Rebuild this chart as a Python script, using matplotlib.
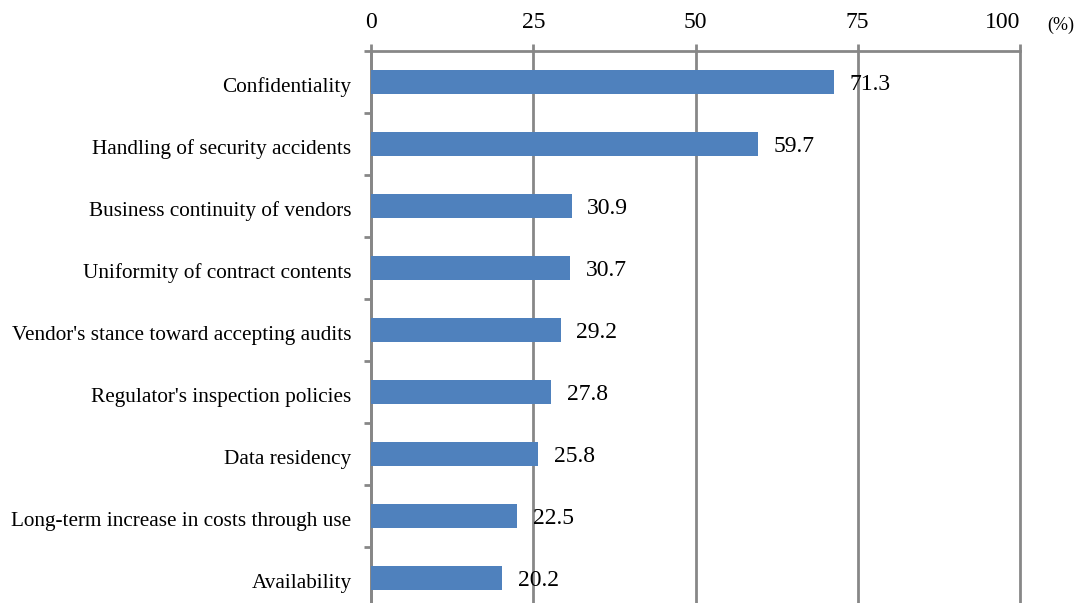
import matplotlib.pyplot as plt
import matplotlib.transforms as mtransforms
import numpy as np

categories = ["Confidentiality", "Handling of security accidents", "Business continuity of vendors",
              "Uniformity of contract contents", "Vendor's stance toward accepting audits",
              "Regulator's inspection policies", "Data residency",
              "Long-term increase in costs through use", "Availability"]
values = [71.3, 59.7, 30.9, 30.7, 29.2, 27.8, 25.8, 22.5, 20.2]
xticks = [0, 25, 50, 75, 100]

plt.rcParams['font.family'] = ['Liberation Serif', 'DejaVu Serif']
GRAY = '#878787'

fig = plt.figure(figsize=(10.83, 6.03), dpi=100)
ax = fig.add_axes([0.3426, -0.00995, 0.5992, 0.9254])

y = np.arange(len(categories))
ax.barh(y, values, height=0.39, color='#4F81BD', zorder=3)
for yi, v in zip(y, values):
    ax.text(v + 2.4, yi, f"{v:.1f}", va='center_baseline', ha='left', fontsize=17, zorder=4)

ax.set_xlim(0, 100)
ax.set_ylim(len(categories) - 0.5, -0.5)
ax.xaxis.tick_top()
ax.set_xticks(xticks)
ax.set_xticklabels([str(t) for t in xticks], fontsize=17)
ax.get_xticklabels()[-1].set_horizontalalignment('right')
ax.tick_params(axis='x', length=5, width=2, color=GRAY, pad=8)
ax.grid(axis='x', color=GRAY, linewidth=2, zorder=1)
for gl in ax.get_xgridlines():
    gl.set_clip_on(False)

# category labels centred on bars, tick marks between categories
ax.set_yticks(y)
ax.set_yticklabels(categories, fontsize=15.3)
ax.tick_params(axis='y', which='major', length=0, pad=14)
ax.set_yticks(np.arange(len(categories) + 1) - 0.5, minor=True)
ax.tick_params(axis='y', which='minor', length=5, width=2, color=GRAY)
shift = mtransforms.ScaledTranslation(0, -3 / 100, fig.dpi_scale_trans)
for lbl in ax.get_yticklabels():
    lbl.set_transform(lbl.get_transform() + shift)

for s in ['right', 'bottom']:
    ax.spines[s].set_visible(False)
for s in ['left', 'top']:
    ax.spines[s].set_color(GRAY)
    ax.spines[s].set_linewidth(2)

fig.text(1047 / 1083, 1 - 25 / 603, "(%)", fontsize=13, ha='left', va='center')

fig.savefig('out.png', dpi=100)
